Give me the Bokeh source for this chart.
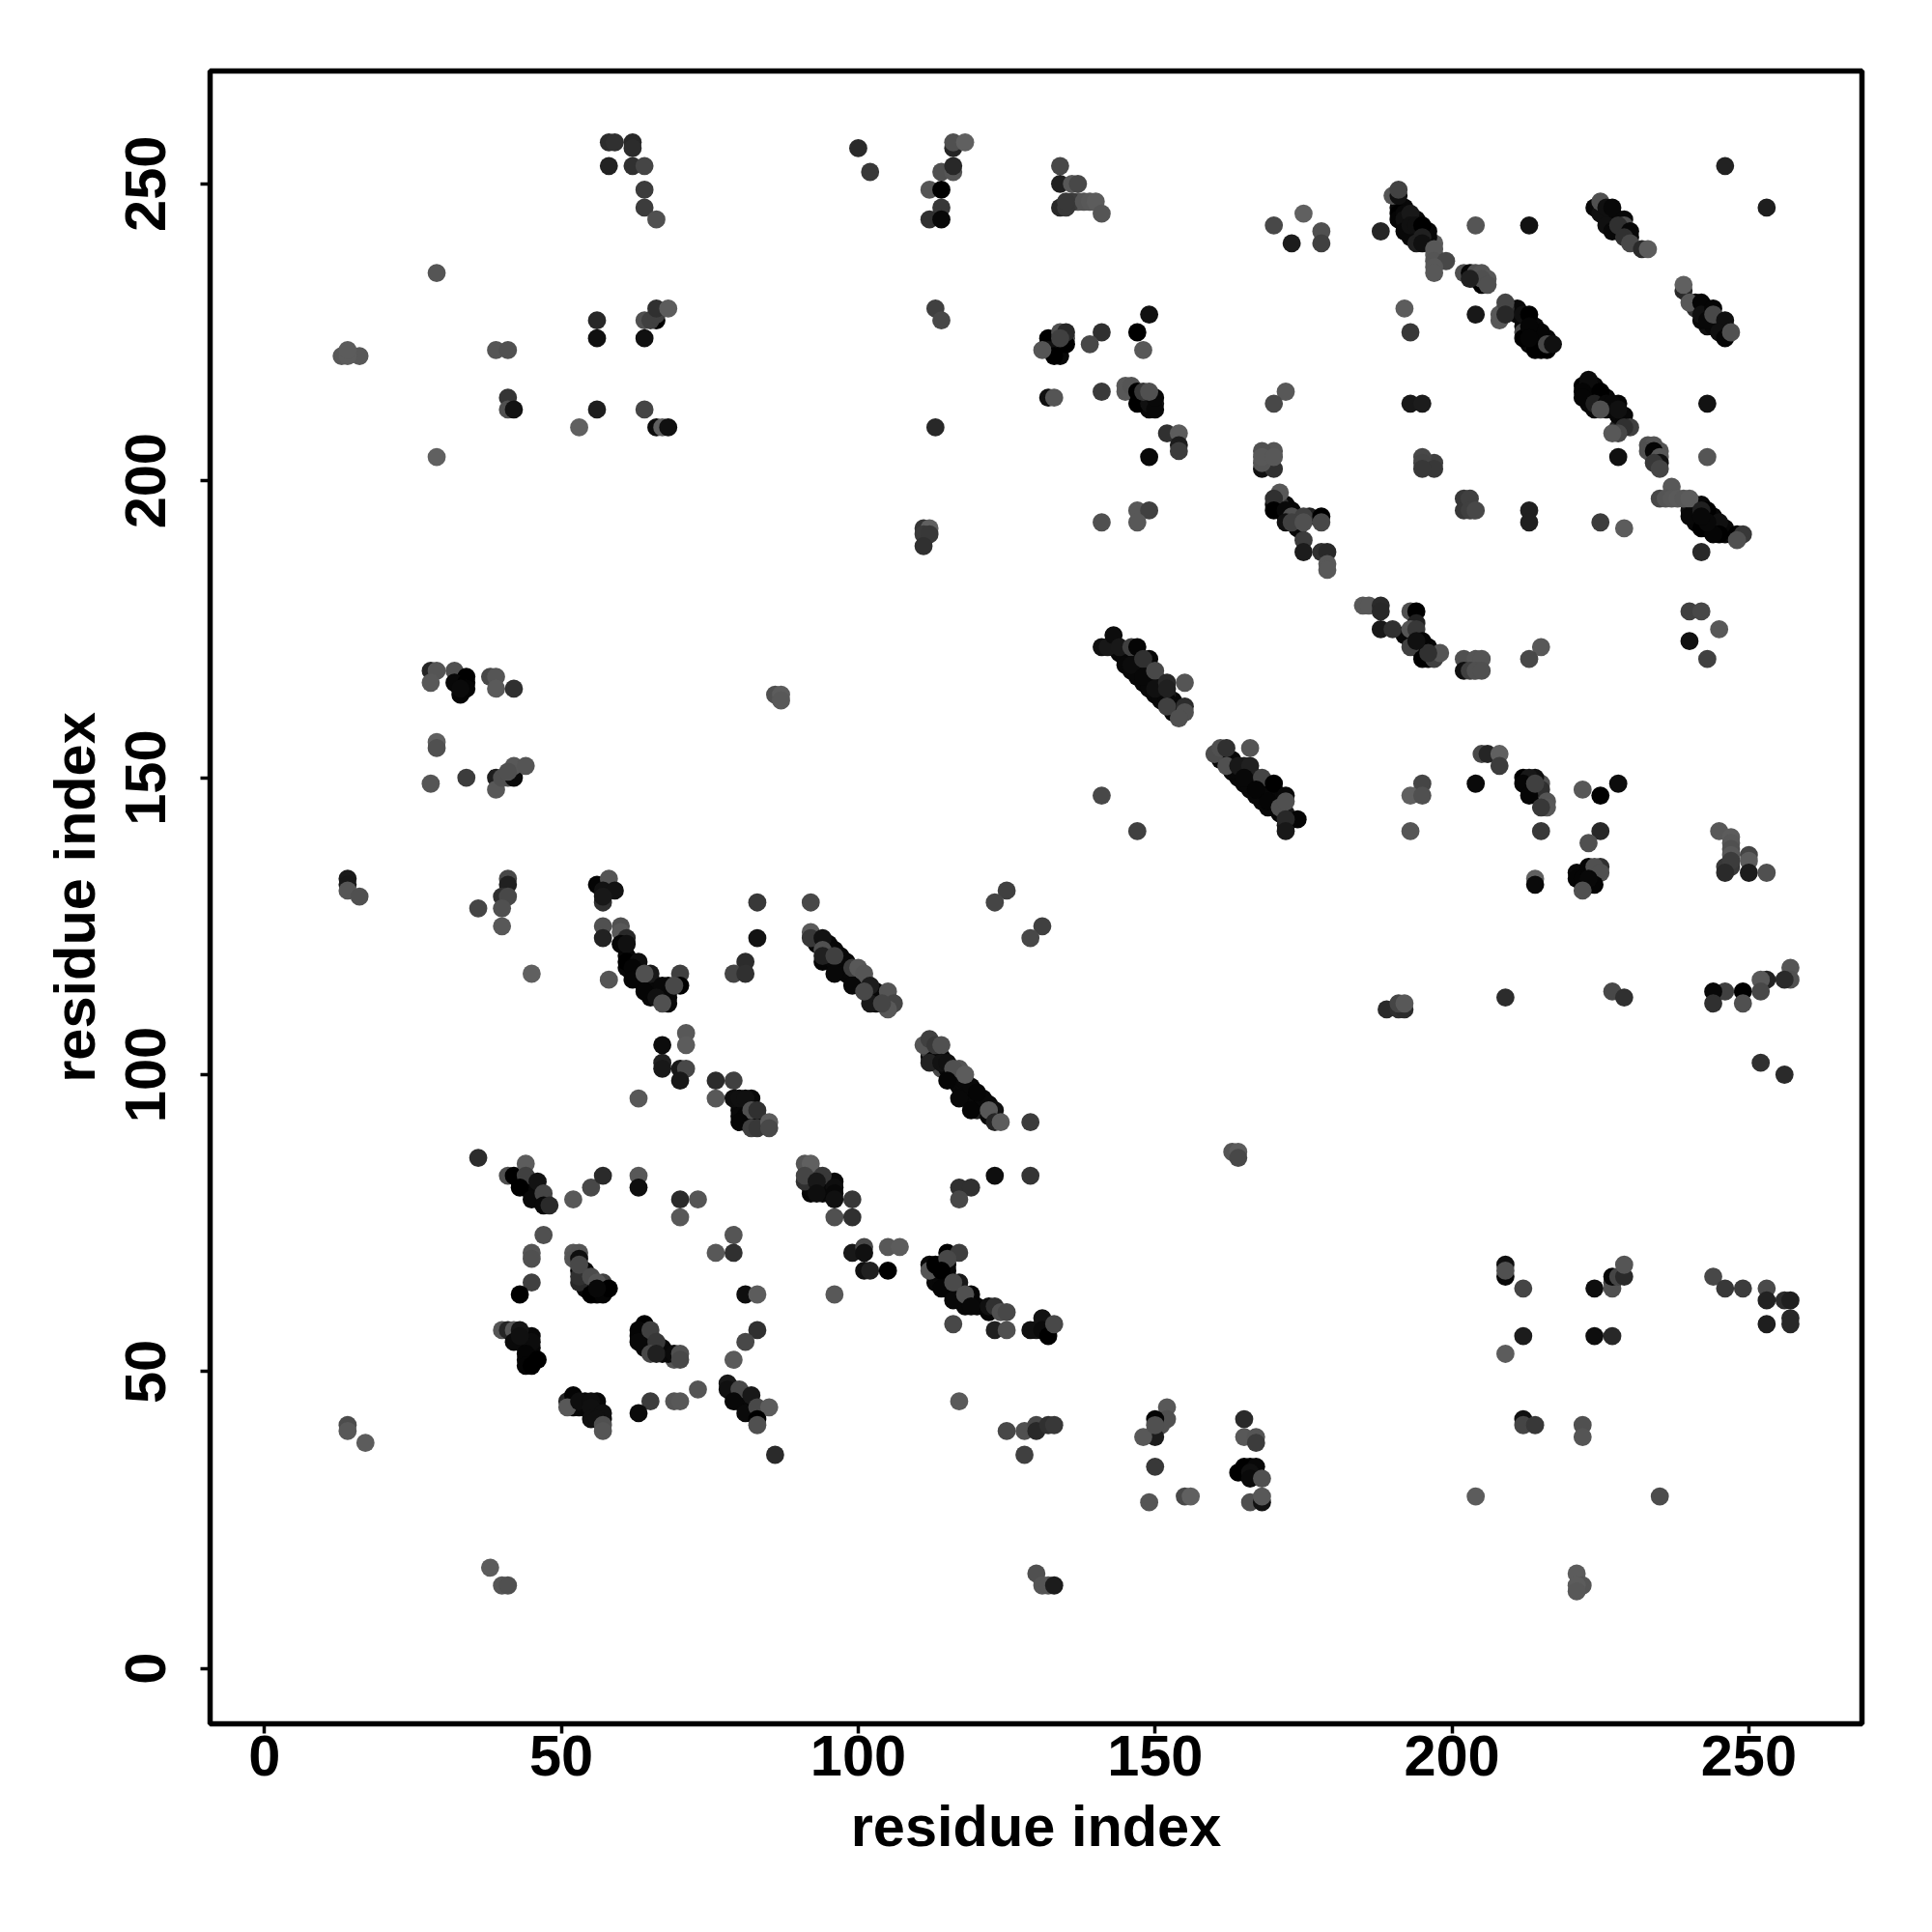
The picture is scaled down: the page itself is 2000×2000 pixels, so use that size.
from bokeh.plotting import figure
from bokeh.models import FixedTicker, Range1d
from bokeh.embed import file_html
from bokeh.resources import INLINE

tick_values = [0, 50, 100, 150, 200, 250]
axis_title = "residue index"

# contacts: residue i, residue j, grey level
a_x = [58,59,62,62,58,62,64,64,64,66,29,66,64,65,66,66,68,56,56,64,13,16,14,14,39,41,41,41,42,56,64,53,66,67,68,29]
a_y = [257,257,257,256,253,253,253,249,246,244,235,227,227,227,228,229,229,227,224,224,221,221,221,222,222,222,214,212,212,212,212,209,209,209,209,204]
a_g = [0x2c,0x30,0x28,0x2c,0x22,0x30,0x45,0x3c,0x3c,0x50,0x55,0x00,0x50,0x40,0x40,0x30,0x5c,0x28,0x10,0x10,0x58,0x58,0x5c,0x5c,0x55,0x50,0x35,0x50,0x12,0x1e,0x45,0x60,0x0c,0x60,0x10,0x60]

b_x = [100,102,116,116,118,114,116,116,112,114,114,112,114,113,114,134,134,136,137,134,135,135,138,139,140,141,175,170,173,178,178,132,132,133,131,134,135,135,134,141,139,149,147,148,132,133,141,145,146,147,147,149,148,150,150,149,152,154,154,154,149,168,170,168,168,170,171,170,170,172,173,175,178,178,172,173,175,175,175,178,179,179,179,147,149,141,147,111,112,111,112,111,113]
b_y = [256,252,256,257,257,252,252,253,249,249,246,244,244,229,227,253,250,250,250,246,246,247,247,247,247,245,245,243,240,242,240,224,222,221,222,225,223,225,224,225,223,228,225,222,214,214,215,215,216,213,215,213,215,212,214,215,208,208,206,205,204,202,202,203,204,204,198,197,195,195,194,194,194,193,193,193,193,190,188,188,188,186,185,195,195,193,193,192,192,191,191,189,209]
b_g = [0x2a,0x38,0x25,0x50,0x60,0x50,0x55,0x28,0x55,0x00,0x38,0x30,0x08,0x40,0x48,0x48,0x20,0x58,0x48,0x28,0x38,0x38,0x55,0x58,0x5c,0x55,0x60,0x48,0x1c,0x50,0x40,0x00,0x10,0x00,0x55,0x50,0x00,0x28,0x40,0x30,0x48,0x10,0x00,0x58,0x10,0x55,0x3a,0x58,0x55,0x00,0x00,0x10,0x38,0x08,0x08,0x50,0x30,0x5c,0x1c,0x3c,0x08,0x10,0x30,0x55,0x58,0x58,0x58,0x30,0x00,0x08,0x50,0x40,0x00,0x48,0x10,0x40,0x50,0x3c,0x1c,0x30,0x28,0x58,0x58,0x58,0x40,0x50,0x58,0x35,0x60,0x3a,0x38,0x30,0x28]

c_x = [246,253,192,193,188,204,213,190,191,191,192,193,192,193,194,195,194,195,195,197,197,199,197,197,202,203,204,204,205,206,205,205,206,203,224,225,225,226,227,226,227,229,229,228,230,229,230,232,233,239,239,240,242,242,244,243,244,246,245,246,247]
c_y = [253,246,229,225,242,243,243,248,248,249,244,245,242,243,243,243,240,241,240,239,237,237,236,235,235,235,235,234,235,234,233,234,233,234,246,245,247,246,246,243,242,244,243,243,242,241,240,239,239,232,233,230,230,228,229,227,228,227,225,224,225]
c_g = [0x22,0x1e,0x5c,0x38,0x25,0x55,0x12,0x55,0x10,0x42,0x10,0x18,0x08,0x10,0x10,0x00,0x20,0x20,0x10,0x58,0x55,0x48,0x58,0x58,0x50,0x05,0x50,0x48,0x55,0x58,0x00,0x50,0x50,0x20,0x08,0x10,0x50,0x10,0x08,0x10,0x08,0x08,0x50,0x30,0x08,0x30,0x48,0x2a,0x5c,0x28,0x60,0x58,0x05,0x10,0x05,0x08,0x48,0x10,0x10,0x05,0x50]

d_x = [208,209,209,204,212,213,212,212,214,214,215,216,216,217,213,213,193,195,243,223,222,222,225,224,226,228,227,225,228,230,229,228,227,228,243,234,235,233,234,235,235,234,235,237,235,236,237,238,239,240,240,243,242,242,245,245,244,243,242,248,249,248,242,225,229,195,197,195,203,203,204,213,213]
d_y = [228,230,228,228,228,228,225,224,225,222,225,222,223,223,226,224,213,213,213,217,215,214,215,213,213,213,213,212,212,209,209,208,208,204,204,206,205,205,205,204,203,203,202,199,197,197,197,197,197,197,194,195,195,192,193,191,191,193,194,191,191,190,188,193,192,203,202,202,197,195,195,195,193]
d_g = [0x58,0x45,0x28,0x18,0x10,0x00,0x45,0x00,0x00,0x00,0x05,0x00,0x48,0x10,0x05,0x05,0x18,0x1c,0x12,0x0c,0x05,0x05,0x00,0x20,0x08,0x05,0x08,0x50,0x10,0x40,0x30,0x48,0x58,0x10,0x55,0x55,0x55,0x50,0x05,0x58,0x10,0x38,0x45,0x58,0x48,0x55,0x58,0x5a,0x58,0x5c,0x08,0x00,0x20,0x00,0x10,0x00,0x05,0x08,0x08,0x00,0x38,0x50,0x28,0x3c,0x5c,0x45,0x38,0x38,0x40,0x40,0x48,0x20,0x20]

e_x = [185,186,188,188,188,190,193,194,194,193,194,193,195,240,242,245,240,215,213,243,195,197,198,196,194,202,204,205,202,203,204,205,205,206,208,208,204,195,193,195,193,212,214,213,212,215,213,214,216,216,215,215,222,225,228,225,223,214,214,223,225,224,225,221,222,224,223,222,245,247,247,247,247,246,247,246,250,250,250,253]
e_y = [179,179,179,178,175,175,178,178,176,175,175,172,173,178,178,175,173,172,170,170,170,170,171,171,173,170,170,170,168,168,168,168,154,154,154,152,149,149,147,147,141,150,150,150,149,148,147,149,146,145,145,141,148,147,149,141,139,133,132,135,135,135,134,133,133,132,133,131,141,140,139,138,137,135,136,134,137,136,134,134]
e_g = [0x58,0x58,0x2a,0x28,0x18,0x30,0x50,0x00,0x20,0x55,0x38,0x40,0x05,0x40,0x48,0x58,0x10,0x58,0x48,0x40,0x00,0x40,0x55,0x30,0x10,0x50,0x55,0x55,0x10,0x40,0x50,0x50,0x48,0x25,0x60,0x3c,0x0a,0x45,0x60,0x50,0x55,0x00,0x10,0x18,0x05,0x30,0x05,0x40,0x55,0x58,0x38,0x38,0x58,0x00,0x0c,0x28,0x50,0x60,0x0a,0x05,0x30,0x50,0x50,0x05,0x05,0x05,0x08,0x50,0x58,0x5c,0x58,0x50,0x58,0x38,0x3c,0x2a,0x45,0x5c,0x1c,0x50]

f_x = [257,257,256,253,252,252,249,246,244,244,249,227,229,209,189,191,192,191,192,252,256]
f_y = [118,116,116,116,116,114,114,114,114,112,112,114,113,113,111,111,111,112,112,102,100]
f_g = [0x55,0x50,0x2a,0x22,0x58,0x48,0x00,0x40,0x08,0x30,0x50,0x48,0x30,0x2c,0x2a,0x30,0x2c,0x45,0x58,0x30,0x2a]

g_x = [141,142,143,144,146,147,146,149,148,148,150,150,152,152,155,152,155,155,154,141,147,160,161,162,162,166,164,166,165,168,167,170,169,172,171,172,174,172,172,92,125,123,131,129,92,92,94,94,94,97,96,96,99,100,101,99,102,102,101,105,106,105,104,111,112,113,114,112,114,115,116,118,115,117,120,119,123,122,123,124,129,163,164,164]
g_y = [172,172,174,172,172,172,169,170,170,167,168,165,166,165,166,162,162,161,160,147,141,154,155,155,152,155,152,152,150,150,148,149,146,147,145,146,143,143,141,129,131,129,125,123,124,123,123,121,120,120,120,117,118,118,117,115,115,112,114,114,112,111,112,105,106,105,105,102,102,102,101,100,99,96,97,94,94,94,92,92,92,87,87,86]
g_g = [0x10,0x18,0x0c,0x18,0x40,0x05,0x0c,0x08,0x30,0x08,0x48,0x10,0x28,0x20,0x55,0x40,0x2c,0x50,0x50,0x48,0x40,0x4c,0x50,0x30,0x50,0x55,0x18,0x20,0x08,0x45,0x05,0x00,0x05,0x08,0x50,0x50,0x05,0x28,0x18,0x48,0x40,0x45,0x40,0x48,0x5a,0x38,0x12,0x50,0x20,0x08,0x40,0x08,0x3c,0x58,0x55,0x08,0x1c,0x18,0x48,0x55,0x45,0x58,0x45,0x55,0x40,0x38,0x50,0x22,0x12,0x10,0x50,0x5c,0x05,0x08,0x05,0x05,0x10,0x58,0x25,0x5c,0x3c,0x55,0x5c,0x48]

h_x = [28,29,28,32,34,32,34,33,34,33,38,39,39,42,86,87,87,29,29,28,34,39,39,40,42,42,44,41,14,14,14,16,41,41,40,41,40,36,40,56,58,57,59,57,57,57,57,60,60,61,60,61,83,83,45,58,61,63,62,62,65,64,64,70,70,67,68,66,67,69,67,71,71,67,67,70,71,70,76,79,63,76,79,80,81,81,82,83,80,82,83,85,85,81,79,81]
h_y = [168,168,166,168,167,166,166,164,165,165,167,167,165,165,164,164,163,156,155,149,150,150,148,150,150,152,152,151,133,132,131,130,133,132,130,130,128,128,125,132,133,131,131,129,130,125,123,125,124,123,122,122,129,123,117,116,119,119,118,116,117,117,114,117,115,115,113,113,112,115,105,107,105,102,101,101,101,99,99,99,96,96,96,96,96,93,94,94,92,91,91,92,91,119,117,117]
h_g = [0x25,0x55,0x58,0x50,0x00,0x08,0x00,0x05,0x05,0x0a,0x48,0x55,0x5a,0x30,0x50,0x5c,0x58,0x60,0x50,0x55,0x3c,0x1e,0x58,0x50,0x0a,0x58,0x55,0x50,0x1a,0x18,0x55,0x50,0x48,0x20,0x30,0x48,0x50,0x45,0x58,0x05,0x55,0x12,0x12,0x30,0x18,0x50,0x22,0x50,0x58,0x28,0x05,0x10,0x38,0x12,0x60,0x55,0x00,0x0e,0x05,0x05,0x18,0x50,0x05,0x40,0x00,0x08,0x08,0x10,0x50,0x48,0x0c,0x58,0x5c,0x20,0x18,0x18,0x48,0x18,0x2c,0x40,0x58,0x58,0x0e,0x10,0x10,0x05,0x50,0x30,0x05,0x40,0x38,0x5c,0x48,0x2c,0x45,0x30]

i_x = [36,41,42,44,44,43,46,45,47,47,48,52,55,57,63,63,70,73,70,47,45,45,45,43,79,76,79,81,83,52,53,52,53,53,53,53,55,56,55,57,58,56,64,63,63,65,66,65,66,69,70,70,83,81,79,40,41,42,43,45,42,43,44,46,44,45,78,78,80,79,82,81,83,85,83,83,86,73,65,69,70,63,51,52,51,53,55,55,55,57,56,57,57,14,14,17,38,40,41]
i_y = [86,83,83,85,83,81,82,79,80,78,78,79,81,83,83,81,79,79,76,73,70,69,65,63,73,70,70,63,63,70,70,69,69,65,66,68,66,65,63,63,64,64,58,57,55,57,55,53,53,53,53,52,57,55,52,57,57,57,57,55,55,56,53,52,51,51,48,47,47,45,46,43,44,44,42,41,36,47,45,45,45,43,45,46,44,45,45,44,42,43,42,41,40,41,40,38,17,14,14]
i_g = [0x2c,0x50,0x00,0x5c,0x40,0x00,0x12,0x08,0x45,0x08,0x2a,0x58,0x48,0x2a,0x58,0x0e,0x2a,0x55,0x58,0x50,0x55,0x50,0x40,0x00,0x55,0x58,0x30,0x0e,0x5c,0x58,0x55,0x55,0x0e,0x28,0x30,0x48,0x4c,0x55,0x00,0x05,0x00,0x08,0x00,0x05,0x08,0x40,0x38,0x48,0x20,0x0a,0x50,0x48,0x30,0x48,0x5a,0x55,0x25,0x58,0x15,0x0c,0x0a,0x10,0x05,0x00,0x05,0x00,0x18,0x10,0x48,0x08,0x18,0x0a,0x48,0x5c,0x00,0x50,0x2a,0x55,0x3c,0x55,0x58,0x0a,0x28,0x05,0x58,0x0e,0x0e,0x10,0x10,0x10,0x10,0x50,0x55,0x4c,0x58,0x5c,0x5c,0x55,0x50]

j_x = [91,92,91,91,94,93,96,96,93,99,96,96,99,117,119,117,123,129,99,101,101,105,107,101,102,105,96,115,117,112,113,115,114,114,117,116,119,116,118,119,116,122,123,124,125,123,125,129,131,131,132,133,117,125,128,130,130,132,133,128,130,131,132,133,152,152,150,150,148,150,150,149,155,156,165,165,167,167,164,165,167,166,166,168,166,168,168]
j_y = [85,85,82,83,83,82,81,80,80,79,79,76,76,81,81,79,83,83,70,71,70,71,71,67,67,67,63,70,70,67,68,69,67,64,65,65,63,62,63,61,58,61,61,60,60,57,57,57,59,57,56,58,45,40,40,41,40,41,41,36,16,14,14,14,44,42,42,39,39,41,34,28,29,29,42,39,39,38,33,34,34,33,32,32,28,28,29]
j_g = [0x55,0x60,0x30,0x45,0x38,0x18,0x0e,0x08,0x0e,0x38,0x10,0x50,0x30,0x30,0x30,0x48,0x0e,0x35,0x18,0x48,0x10,0x58,0x5c,0x10,0x20,0x00,0x58,0x00,0x3e,0x55,0x00,0x48,0x00,0x05,0x18,0x4a,0x05,0x08,0x50,0x08,0x48,0x10,0x30,0x50,0x48,0x20,0x50,0x10,0x12,0x0a,0x00,0x48,0x5a,0x48,0x50,0x48,0x28,0x30,0x38,0x40,0x50,0x55,0x55,0x1c,0x58,0x50,0x05,0x1c,0x58,0x50,0x38,0x55,0x48,0x60,0x2a,0x58,0x55,0x3c,0x00,0x00,0x08,0x10,0x0a,0x50,0x50,0x12,0x58]

k_x = [209,209,209,212,224,227,227,228,229,229,244,246,249,253,253,256,257,253,257,257,212,224,227,209,212,212,214,222,222,204,235,221,222,221,221]
k_y = [66,68,67,64,64,64,66,66,66,68,66,64,64,64,62,62,62,58,59,58,56,56,56,53,42,41,41,41,39,29,29,16,14,14,13]
k_g = [0x08,0x10,0x50,0x45,0x0e,0x50,0x08,0x45,0x2a,0x55,0x48,0x38,0x3c,0x4a,0x22,0x2c,0x1f,0x1e,0x28,0x28,0x1c,0x0e,0x28,0x5c,0x10,0x45,0x38,0x50,0x55,0x5c,0x4c,0x5c,0x55,0x5c,0x58]

# contacts buried inside the dark diagonal bands, estimated from the band's extent
band_x = [93,94,95,95,96,97,98,98,99,100,101,102,102,103,103,113,113,114,115,116,116,117,118,118,119,119,120,121,121,122,122,61,62,62,63,63,64,65,65,66,67,68,68,144,145,145,146,147,147,148,149,149,150,151,151,152,153,153,163,163,164,165,166,167,167,168,168,169,169,170,170,171,171,225,226,227,227,228,229,230,228,192,192,193,193,194,194,195,196,196,193,213,213,214,214,215,215,216,213,215,223,223,224,224,225,226,226,227,228,229,224,241,241,243,244,243,244,245,246,246,243,243,244,245,245,246,244,43,44,44,45,45,46,46,47,43,44,44,45,45,44,45,45,52,53,54,54,55,56,56,57,54,55,55,56,57,54,64,65,65,64,67,67,68,79,79,80,80,81,81,82,82,81,81,82,82,80,81,80,93,94,94,95,95,96,92,93,113,113,114,114,115,115,116,116,117,118,118,119,115,115,133,133,134,132,134,148,148,149,149,172,173,174,174,171,193,194,195,196,196,194,193,192]
band_y = [122,122,120,121,119,119,118,117,117,116,115,113,114,112,113,103,104,103,101,100,99,99,98,99,97,98,96,95,96,95,93,120,119,117,117,116,115,115,114,114,113,114,112,171,170,169,168,168,167,166,166,165,164,164,163,163,162,161,153,152,151,151,150,150,149,148,149,147,148,147,146,146,145,246,245,244,243,242,242,241,244,245,243,244,242,244,242,242,241,242,241,227,225,226,224,224,223,224,223,222,214,215,214,215,214,214,212,212,211,211,212,194,193,194,194,192,192,192,191,192,229,228,226,227,226,225,227,82,81,82,81,80,80,79,79,55,55,54,54,53,52,52,56,45,44,45,44,43,43,44,42,67,65,64,63,64,66,56,56,55,54,54,53,53,47,46,46,45,45,44,44,43,95,94,93,92,94,92,93,81,81,80,81,80,82,81,83,66,65,66,65,64,65,63,64,63,62,61,62,66,68,223,222,223,223,221,213,214,214,212,194,195,194,193,195,173,172,171,170,172,174,174,174]
band_g = [0x08] * len(band_x)

read_x = band_x + a_x + b_x + c_x + d_x + e_x + f_x + g_x + h_x + i_x + j_x + k_x
read_y = band_y + a_y + b_y + c_y + d_y + e_y + f_y + g_y + h_y + i_y + j_y + k_y
read_g = band_g + a_g + b_g + c_g + d_g + e_g + f_g + g_g + h_g + i_g + j_g + k_g

# the contact map is symmetric: a contact hidden on one side of the diagonal
# is taken from its mirror, drawn underneath
seen = set(zip(read_x, read_y))
under = [(b, a, v) for a, b, v in zip(read_x, read_y, read_g) if (b, a) not in seen]
all_x = [u[0] for u in under] + read_x
all_y = [u[1] for u in under] + read_y
all_g = [u[2] for u in under] + read_g
colors = [f"#{v:02x}{v:02x}{v:02x}" for v in all_g]

FONT = "Liberation Sans"
p = figure(width=1984, height=1984, output_backend="svg", toolbar_location=None,
           x_range=Range1d(-9.16, 269.05), y_range=Range1d(-9.3, 269.0),
           min_border_left=217, min_border_right=57, min_border_top=73, min_border_bottom=200,
           background_fill_color="white", border_fill_color="white")
p.scatter(all_x, all_y, size=18.8, marker="circle", fill_color=colors, line_color=None)
p.grid.visible = False
p.outline_line_color = "black"
p.outline_line_width = 5.5
for ax in (p.xaxis[0], p.yaxis[0]):
    ax.ticker = FixedTicker(ticks=tick_values)
    ax.axis_line_color = None
    ax.major_tick_in = 0
    ax.major_tick_out = 10
    ax.major_tick_line_width = 3.5
    ax.major_tick_line_color = "black"
    ax.minor_tick_line_color = None
    ax.major_label_text_font = FONT
    ax.major_label_text_font_style = "bold"
    ax.major_label_text_font_size = "59.5px"
    ax.major_label_text_color = "black"
    ax.axis_label = axis_title
    ax.axis_label_text_font = FONT
    ax.axis_label_text_font_style = "bold"
    ax.axis_label_text_font_size = "59.5px"
    ax.axis_label_text_color = "black"
p.xaxis[0].major_label_standoff = 2
p.xaxis[0].axis_label_standoff = 16
p.yaxis[0].major_label_orientation = "vertical"
p.yaxis[0].major_label_standoff = 36
p.yaxis[0].axis_label_standoff = 17

open("out.html", "w").write(file_html(p, INLINE))
